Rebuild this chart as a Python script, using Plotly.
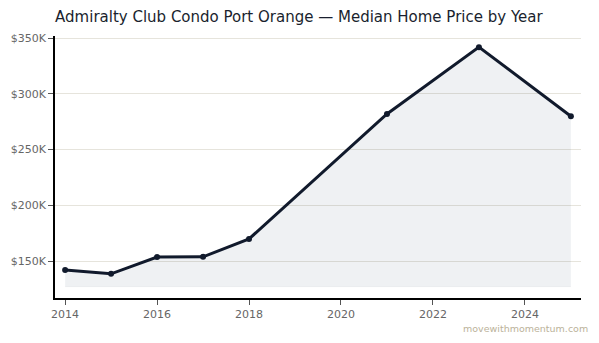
import plotly.graph_objects as go

years = [2014, 2015, 2016, 2017, 2018, 2021, 2023, 2025]
prices = [142000, 138500, 153600, 153800, 169800, 282000, 342000, 280000]
baseline_value = 127000
y_tickvals = [150000, 200000, 250000, 300000, 350000]
y_ticktext = ["$150K", "$200K", "$250K", "$300K", "$350K"]
x_tickvals = [2014, 2016, 2018, 2020, 2022, 2024]

navy = "#111a2c"

fig = go.Figure()
fig.add_trace(go.Scatter(
    x=years, y=[baseline_value] * len(years), mode="lines",
    line=dict(width=0.8, color="rgba(17,26,44,0.05)"), hoverinfo="skip", showlegend=False,
))
fig.add_trace(go.Scatter(
    x=years, y=prices, mode="lines+markers",
    fill="tonexty", fillcolor="rgba(30,50,80,0.07)",
    line=dict(color=navy, width=3),
    marker=dict(color=navy, size=6),
    showlegend=False,
))

fig.update_layout(
    width=599, height=343,
    margin=dict(l=55, r=18, t=36, b=45),
    paper_bgcolor="white", plot_bgcolor="white",
    font=dict(family="DejaVu Sans", size=11, color="#666666"),
    title=dict(
        text="Admiralty Club Condo Port Orange — Median Home Price by Year",
        x=0.092, xanchor="left", y=0.952, yanchor="middle",
        font=dict(family="DejaVu Sans", size=15, color="#1a1f2e"),
    ),
    xaxis=dict(
        range=[2013.78, 2025.22], tickvals=x_tickvals,
        showline=True, linecolor="black", linewidth=1.5,
        ticks="outside", ticklen=5, tickcolor="#555555",
        showgrid=False, zeroline=False,
    ),
    yaxis=dict(
        range=[116800, 352000], tickvals=y_tickvals, ticktext=y_ticktext,
        showline=True, linecolor="black", linewidth=1.5,
        ticks="outside", ticklen=5, tickcolor="#555555",
        showgrid=True, gridcolor="#e6e4dc", gridwidth=1, zeroline=False,
    ),
    annotations=[dict(
        text="movewithmomentum.com", xref="paper", yref="paper",
        x=1.018, y=-0.115, xanchor="right", yanchor="middle", showarrow=False,
        font=dict(family="DejaVu Sans", size=9.5, color="#bbb29a"),
    )],
)

fig.write_html("out.html")
